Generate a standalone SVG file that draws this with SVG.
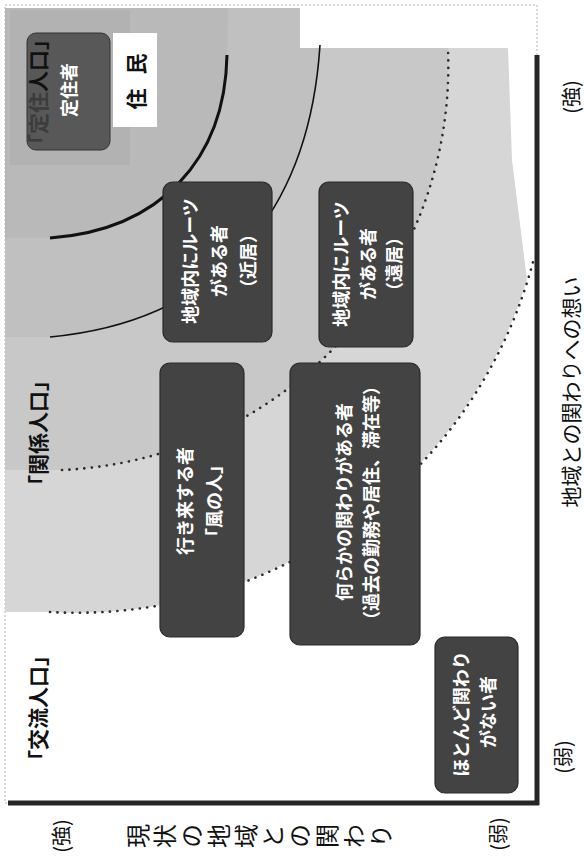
<svg xmlns="http://www.w3.org/2000/svg" width="584" height="857" viewBox="0 0 584 857">
<style>
  text{font-family:"Noto Sans CJK JP","Noto Sans CJK SC",sans-serif;}
  .nt{fill:#fff;font-size:18px;font-weight:bold;text-anchor:middle;dominant-baseline:central;}
  .box{fill:#434343;stroke:#2a2a2a;stroke-width:1.2;}
  .lbl{fill:#111;font-size:21px;font-weight:bold;text-anchor:middle;dominant-baseline:central;}
  .ax{fill:#111;font-size:21px;text-anchor:middle;dominant-baseline:central;}
  .pa{fill:#111;font-size:20px;text-anchor:middle;dominant-baseline:central;}
  .dot{fill:none;stroke:#2a2a2a;stroke-width:2.6;stroke-linecap:round;stroke-dasharray:0.1 7.4;}
  .solid{fill:none;stroke:#111;}
  .axis{stroke:#262626;stroke-width:5;fill:none;}
</style>
<rect x="0" y="0" width="584" height="857" fill="#fff"/>
<g id="background">
  <rect x="5" y="5" width="532" height="798" fill="#fff" stroke="#b4b4b4" stroke-width="1" stroke-dasharray="2 2"/>
  <path d="M5 612 L50 612 A472 472 0 0 0 527 280 L512 160 L508 48 L300 48 L300 8 L5 8 Z" fill="#d6d6d6"/>
  <path d="M5 470 L62 470 A404 404 0 0 0 448 48 L300 48 L300 8 L5 8 Z" fill="#c8c8c8"/>
  <path d="M5 337 L50 337 C230 320 310 200 320 48 L300 48 L300 8 L5 8 Z" fill="#c0c0c0"/>
  <path d="M5 238 L50 238 C160 230 225 160 227 55 L228 8 L5 8 Z" fill="#b9b9b9"/>
  <rect x="10" y="10" width="120" height="155" fill="#b2b2b2"/>
</g>
<g id="connectors">
  <path class="solid" stroke-width="3" d="M227 55 C225 160 160 230 50 238"/>
  <path class="solid" stroke-width="1.6" d="M320 45 C310 200 230 320 50 337"/>
  <path class="dot" d="M62 470 A404 404 0 0 0 448 50"/>
  <path class="dot" d="M50 612 A472 472 0 0 0 533 262"/>
  <line class="axis" x1="537" y1="55" x2="537" y2="805"/>
  <line class="axis" x1="8" y1="803" x2="539" y2="803"/>
</g>
<g id="teiju">
  <rect x="27" y="33" width="83" height="117" rx="9" fill="#585858" stroke="#333" stroke-width="1"/>
  <text class="lbl" x="37" y="92" font-size="20" transform="rotate(-90 37 92)"><tspan fill="#3c3c3c">「定住</tspan>人口」</text>
  <text class="nt" x="68" y="90" font-size="19" transform="rotate(-90 68 90)">定住者</text>
</g>
<g id="jumin">
  <rect x="113" y="33" width="44" height="94" fill="#fff"/>
  <text class="lbl" x="135" y="74.5" font-size="22" letter-spacing="14" transform="rotate(-90 135 74.5)">住民</text>
</g>
<g id="kankei-label">
  <text class="lbl" x="37" y="433" transform="rotate(-90 37 433)">「関係人口」</text>
</g>
<g id="koryu-label">
  <text class="lbl" x="37" y="708" transform="rotate(-90 37 708)">「交流人口」</text>
</g>
<g id="roots-near">
  <rect class="box" x="163" y="182" width="109" height="160" rx="10"/>
  <text class="nt" x="189" y="261" transform="rotate(-90 189 261)">地域内にルーツ</text>
  <text class="nt" x="218" y="261" transform="rotate(-90 218 261)">がある者</text>
  <text class="nt" x="247" y="261" transform="rotate(-90 247 261)">（近居）</text>
</g>
<g id="roots-far">
  <rect class="box" x="319" y="182" width="94" height="165" rx="10"/>
  <text class="nt" x="340" y="264" transform="rotate(-90 340 264)">地域内にルーツ</text>
  <text class="nt" x="367" y="264" transform="rotate(-90 367 264)">がある者</text>
  <text class="nt" x="393" y="264" transform="rotate(-90 393 264)">（遠居）</text>
</g>
<g id="kaze">
  <rect class="box" x="160" y="363" width="84" height="274" rx="10"/>
  <text class="nt" x="184" y="501" transform="rotate(-90 184 501)">行き来する者</text>
  <text class="nt" x="213" y="501" transform="rotate(-90 213 501)">「風の人」</text>
</g>
<g id="kakawari">
  <rect class="box" x="290" y="363" width="130" height="282" rx="10"/>
  <text class="nt" x="343" y="502" transform="rotate(-90 343 502)">何らかの関わりがある者</text>
  <text class="nt" x="370" y="503" transform="rotate(-90 370 503)">（過去の勤務や居住、滞在等）</text>
</g>
<g id="hotondo">
  <rect class="box" x="435" y="637" width="83" height="156" rx="10"/>
  <text class="nt" x="460" y="714" transform="rotate(-90 460 714)">ほとんど関わり</text>
  <text class="nt" x="487" y="712" transform="rotate(-90 487 712)">がない者</text>
</g>
<g id="axis-labels">
  <text class="pa" x="570" y="97" transform="rotate(-90 570 97)">(強)</text>
  <text class="ax" x="570" y="392" transform="rotate(-90 570 392)">地域との関わりへの想い</text>
  <text class="pa" x="562" y="757" transform="rotate(-90 562 757)">(弱)</text>
  <text class="pa" x="60" y="836" transform="rotate(-90 60 836)">(強)</text>
  <text x="836" y="261" transform="rotate(-90 261 836) translate(-575 575)" style="writing-mode:vertical-rl" fill="#111" font-size="24" letter-spacing="3" text-anchor="middle">現状の地域との関わり</text>
  <text class="pa" x="497" y="834" transform="rotate(-90 497 834)">(弱)</text>
</g>
</svg>
